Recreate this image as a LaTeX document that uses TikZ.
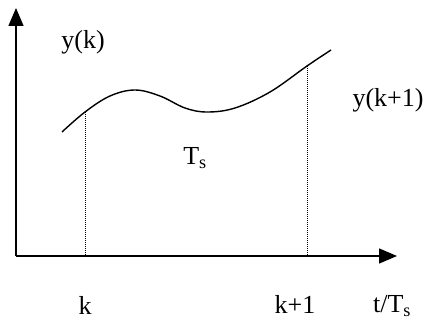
\documentclass[tikz,border=0pt]{standalone}
\usepackage{fontspec}
\setmainfont{Liberation Serif}
\usetikzlibrary{arrows.meta,positioning}

\begin{document}
\begin{tikzpicture}[
    x=1pt, y=-1pt,
    axis/.style={line width=1.4pt, -{Triangle[length=18pt,width=15pt]}},
    signal/.style={line width=1.4pt},
    sampleline/.style={dash pattern=on 1pt off 1pt, line width=1pt},
    lbl/.style={font=\fontsize{26}{28}\selectfont, inner sep=0pt},
]
\useasboundingbox (0,0) rectangle (431,320);

% ===== POINTS =====
\coordinate (origin) at (16,256);
\coordinate (ytip) at (16,8);
\coordinate (xtip) at (397,256);
\coordinate (pk) at (85,112);
\coordinate (pk1) at (307,66);

% ===== AXES =====
\draw[axis] (origin) -- (ytip);
\draw[axis] (origin) -- (xtip);

% ===== SIGNAL =====
\draw[signal] plot[smooth, tension=0.6] coordinates {(62,132) (pk) (110,96) (135,90) (160,96) (185,108) (207,112) (235,108) (270,92) (pk1) (331,50)};
\draw[sampleline] (pk) -- (pk|-origin);
\draw[sampleline] (pk1) -- (pk1|-origin);

% ===== LABELS =====
\node[lbl] (yk) at (83,42) {y(k)};
\node[lbl] (yk1) at (388,100) {y(k+1)};
\node[lbl] (ts) at (195,158) {T\textsubscript{s}};
\node[lbl] (kl) at (85,305) {k};
\node[lbl] (k1l) at (295,304) {k+1};
\node[lbl] (tl) at (392,306) {t/T\textsubscript{s}};

\end{tikzpicture}
\end{document}
